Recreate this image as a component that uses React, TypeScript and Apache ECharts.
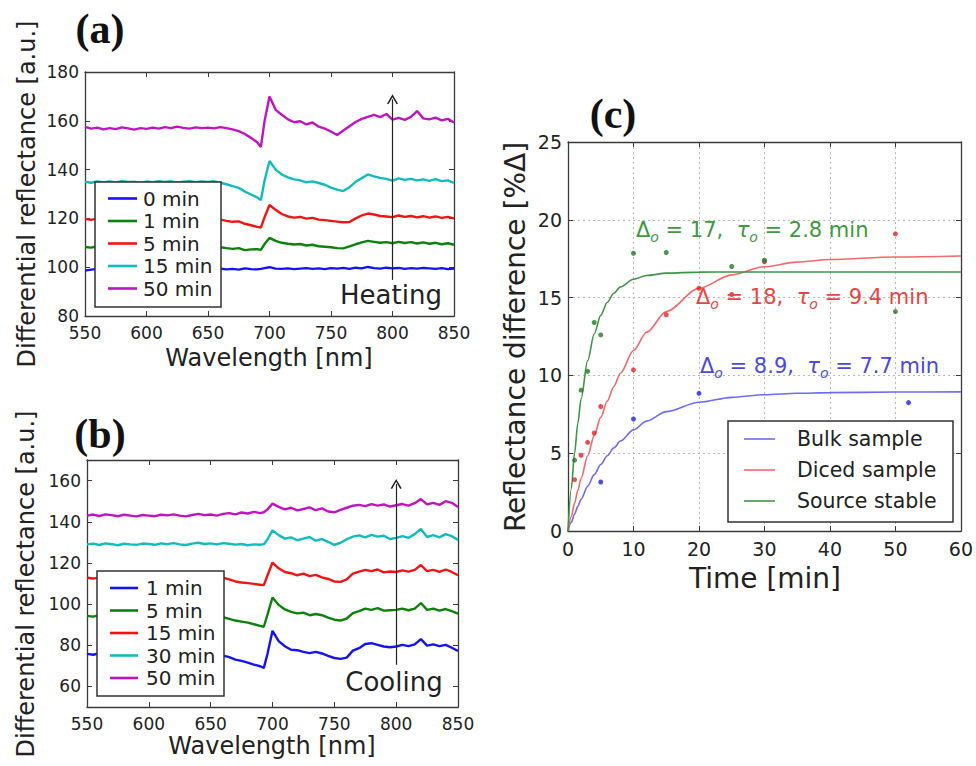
import React, { useEffect, useRef } from "react";
import * as echarts from "echarts";

// ---------- Panel (a) & (b) data: wavelength [nm] ----------
const WAVELENGTHS = [
  550, 555, 560, 565, 570, 575, 580, 585, 590, 595,
  600, 605, 610, 615, 620, 625, 630, 635, 640, 645,
  650, 655, 660, 665, 670, 675, 680, 685, 690, 693,
  696, 700, 705, 710, 715, 720, 725, 730, 735, 740,
  745, 750, 755, 760, 765, 770, 775, 780, 785, 790,
  795, 800, 805, 810, 815, 820, 825, 830, 835, 840,
  845, 850,
];

// Heating (a)
const HEAT_0 = [
  98.6, 99.0, 99.3, 98.9, 99.2, 99.0, 99.4, 99.1, 98.9, 99.3,
  99.2, 99.0, 99.4, 99.1, 99.3, 99.0, 99.2, 99.4, 99.1, 99.3,
  99.0, 99.2, 99.4, 99.1, 99.3, 99.0, 99.5, 99.2, 99.1, 99.3,
  99.6, 100.0, 99.4, 99.3, 99.5, 99.2, 99.4, 99.6, 99.3, 99.5,
  99.2, 99.6, 99.4, 99.7, 99.3, 99.8, 99.5, 100.1, 99.6, 99.4,
  99.8, 99.5, 99.7, 99.3, 99.6, 99.4, 99.7, 99.5, 99.3, 99.6,
  99.2, 99.4,
];
const HEAT_1 = [
  108.3, 108.0, 108.6, 108.2, 108.5, 108.1, 108.7, 108.3, 108.4, 108.0,
  108.5, 108.2, 108.7, 108.3, 108.6, 108.1, 108.5, 108.8, 108.3, 108.6,
  108.4, 108.7, 108.2, 107.8, 107.5, 107.8, 107.0, 107.3, 107.4, 107.1,
  109.5, 112.0, 110.8, 110.0, 109.6, 109.3, 109.5, 108.9, 109.2, 108.6,
  108.4, 108.2, 107.8, 107.7, 108.5, 109.4, 110.2, 110.8, 110.4, 110.0,
  110.3, 109.8, 110.4, 109.9, 110.3, 109.7, 110.2, 109.6, 110.0, 109.4,
  109.8, 109.2,
];
const HEAT_5 = [
  119.8, 119.4, 120.0, 119.6, 119.9, 119.5, 120.1, 119.7, 119.8, 119.5,
  119.9, 119.6, 120.0, 119.7, 120.1, 119.6, 119.9, 120.2, 119.7, 120.0,
  119.8, 120.1, 119.5, 119.0, 118.6, 118.8, 117.8, 117.2, 116.5, 116.2,
  120.5, 125.5, 123.5, 121.8, 120.8, 120.3, 120.6, 119.9, 120.2, 119.5,
  119.3, 119.0, 118.7, 118.4, 118.5, 120.0, 121.2, 122.0, 121.6, 121.0,
  120.8, 120.5, 121.2, 120.6, 121.0, 120.4, 120.9, 120.3, 120.8, 120.2,
  120.6, 120.0,
];
const HEAT_15 = [
  135.0, 134.6, 135.2, 134.8, 135.1, 134.7, 135.3, 134.9, 135.0, 134.6,
  135.1, 134.8, 135.3, 134.9, 135.2, 134.7, 135.0, 135.3, 134.8, 135.1,
  134.9, 135.2, 134.6, 134.0, 133.2, 132.5, 131.0, 129.8, 128.6, 127.5,
  135.5, 143.5, 140.0, 138.0, 136.8, 136.0, 135.6, 134.8, 135.2, 134.5,
  133.8, 132.6, 131.8, 131.2, 132.8, 135.0, 136.5, 138.0, 137.2, 136.6,
  136.2, 135.5, 136.4, 135.8, 136.2, 135.6, 136.0, 135.4, 136.1, 135.3,
  135.6, 134.5,
];
const HEAT_50 = [
  157.5, 156.8, 157.2, 156.5, 157.0, 156.6, 157.3, 156.9, 156.4, 157.0,
  156.7, 157.2, 156.8, 157.4, 157.0, 157.6, 157.1, 156.8, 157.3, 157.0,
  157.2, 156.9, 157.4, 157.0, 156.5, 155.8, 154.6, 153.0, 151.2, 149.3,
  160.0, 170.0, 164.5, 162.5, 160.6, 159.4, 159.8, 158.5, 159.3, 157.6,
  156.8, 155.6, 154.2, 156.0, 157.8, 159.5, 160.8, 161.6, 162.4, 161.5,
  162.8, 160.5, 161.2, 160.4, 161.6, 164.0, 161.0, 160.6, 161.3, 160.2,
  160.8, 159.3,
];

// Cooling (b)
const COOL_1 = [
  75.8, 75.4, 76.1, 75.6, 75.9, 75.3, 76.0, 75.7, 75.4, 76.0,
  75.7, 75.3, 76.0, 75.6, 76.1, 75.5, 75.2, 75.9, 76.3, 75.6,
  75.8, 75.4, 75.0, 74.2, 73.0, 72.4, 71.6, 70.6, 69.8, 69.0,
  76.0, 87.0, 82.0, 79.5, 77.8, 77.6, 76.8, 76.2, 76.8, 76.0,
  74.8, 73.8, 73.4, 74.0, 77.4, 78.6, 80.6, 81.0, 80.2, 79.4,
  79.0, 79.4, 80.2, 79.6, 80.4, 83.0, 79.8, 80.4, 79.6, 80.2,
  78.8, 77.2,
];
const COOL_5 = [
  94.3, 93.9, 94.6, 94.1, 94.4, 93.8, 94.5, 94.2, 93.9, 94.5,
  94.2, 93.8, 94.5, 94.1, 94.6, 94.0, 93.7, 94.4, 94.8, 94.1,
  94.3, 93.9, 93.6, 92.8, 92.0, 91.5, 91.0, 90.2, 89.4, 89.0,
  95.0, 103.2, 99.6, 97.4, 96.2, 95.5, 95.8, 94.6, 95.2, 94.6,
  93.4, 92.4, 92.0, 93.0, 95.6, 96.6, 97.8, 97.2, 98.0, 96.8,
  97.0, 97.2, 97.8, 97.0, 97.8, 100.5, 97.2, 97.8, 96.8, 97.6,
  96.6, 95.4,
];
const COOL_15 = [
  112.8, 112.4, 113.0, 112.6, 112.9, 112.3, 113.1, 112.7, 112.5, 113.0,
  112.8, 112.4, 113.1, 112.7, 113.2, 112.6, 112.3, 113.0, 113.4, 112.8,
  113.0, 112.6, 112.8, 112.0, 111.0, 110.5, 110.2, 109.8, 109.4, 109.2,
  114.0, 120.2, 117.4, 115.6, 115.0, 114.0, 114.8, 113.6, 114.2, 113.0,
  112.2, 111.0, 110.8, 112.0, 114.8, 115.8, 116.6, 116.0, 116.8, 115.4,
  115.8, 115.6, 116.4, 115.8, 116.6, 119.0, 116.0, 116.6, 115.6, 116.8,
  115.6, 114.0,
];
const COOL_30 = [
  129.0, 129.4, 128.7, 129.5, 129.1, 128.6, 129.3, 129.0, 128.8, 129.4,
  129.2, 128.8, 129.5, 129.1, 129.6, 129.0, 128.7, 129.4, 129.8, 129.2,
  129.5, 129.0, 129.6, 129.3, 128.9, 129.2, 128.6, 129.0, 128.8, 129.1,
  131.5, 135.8, 133.5, 131.8, 132.4, 131.0, 131.8, 132.6, 130.8, 131.6,
  130.2, 128.8, 129.8, 131.5, 132.8, 133.4, 132.4, 133.6, 132.8, 133.2,
  131.6, 132.2, 133.0, 132.2, 134.0, 136.5, 132.6, 133.5, 132.4, 134.0,
  133.0, 131.2,
];
const COOL_50 = [
  143.0, 143.5, 142.8, 143.6, 143.2, 142.7, 143.4, 143.0, 142.6, 143.3,
  143.0, 142.7, 143.4, 143.1, 143.6, 143.0, 142.6, 143.3, 143.8, 143.2,
  143.5, 143.0, 143.8, 144.2, 143.6, 144.5, 144.0, 144.8, 144.2, 144.6,
  146.0, 148.8, 147.2, 146.0, 146.8, 145.5, 146.2, 147.0, 145.6, 146.5,
  145.0, 144.6, 145.8, 146.8, 147.8, 148.2, 147.6, 148.6, 147.8, 148.4,
  147.4, 148.0, 148.6, 147.8, 149.0, 151.0, 148.4, 149.2, 148.2, 150.0,
  149.2, 147.2,
];

const HEAT_LABELS = ["0 min", "1 min", "5 min", "15 min", "50 min"];
const COOL_LABELS = ["1 min", "5 min", "15 min", "30 min", "50 min"];

// ---------- Panel (c) data ----------
const FIT_T = [0, 0.5, 1, 1.5, 2, 3, 4, 5, 6, 7, 8, 10, 12, 15, 20, 25, 30, 35, 40, 50, 60];
const BULK_FIT = [0, 0.56, 1.09, 1.58, 2.04, 2.88, 3.62, 4.27, 4.84, 5.34, 5.78, 6.5, 7.06, 7.67, 8.27, 8.59, 8.76, 8.85, 8.89, 8.93, 8.94];
const DICED_FIT = [0, 0.92, 1.79, 2.61, 3.39, 4.84, 6.13, 7.3, 8.35, 9.29, 10.14, 11.6, 12.77, 14.1, 15.6, 16.46, 16.98, 17.28, 17.45, 17.61, 17.67];
const SOURCE_FIT = [0, 2.72, 5.0, 6.91, 8.5, 10.95, 12.66, 13.86, 14.7, 15.28, 15.69, 16.18, 16.42, 16.57, 16.64, 16.65, 16.65, 16.65, 16.65, 16.65, 16.65];

const BULK_DOT_T = [5, 10, 20, 52];
const BULK_DOT_V = [3.15, 7.2, 8.85, 8.25];
const DICED_DOT_T = [1, 2, 3, 4, 5, 10, 15, 20, 25, 30, 50];
const DICED_DOT_V = [3.3, 4.87, 5.7, 6.3, 8.0, 10.35, 13.9, 15.6, 15.2, 17.3, 19.1];
const SOURCE_DOT_T = [1, 2, 3, 4, 5, 10, 15, 25, 30, 50];
const SOURCE_DOT_V = [4.55, 9.05, 10.26, 13.4, 12.6, 17.85, 17.9, 17.0, 17.4, 14.1];

const C_LABELS = ["Bulk sample", "Diced sample", "Source stable"];

// ---------- styling ----------
const FONT = "DejaVu Sans";
const SPEC_COLORS = ["#1414f0", "#0c820c", "#f01414", "#12bcbc", "#c014c0"];
const C_LINE = ["#6c6cf4", "#f06a6a", "#3f9646"];
const C_DOT = ["#2222d8", "#e02424", "#1f7a22"];
const C_TEXT = ["#4a4ae0", "#e84444", "#3d9a3d"];
const AXIS_COL = "#3a3a3a";
const LABEL_COL = "#222";
const ARROW = "path://M0,10 L5,0 L10,10 L8.7,10.7 L5,3.2 L1.3,10.7 Z";

const GRID_A = { left: 85, top: 72, width: 369, height: 244 };
const GRID_B = { left: 87, top: 460, width: 371, height: 247 };
const GRID_C = { left: 568, top: 142, width: 394, height: 389 };

function pairs(xs: number[], ys: number[]) {
  return xs.map((x, i) => [x, ys[i]]);
}

function frameAxes(
  grid: number,
  kind: "x" | "y",
  min: number,
  max: number,
  interval: number | null,
  custom: number[] | null,
  fontSize: number,
  splitDotted: boolean,
  labelExtra: any = {}
) {
  const common: any = {
    type: "value",
    gridIndex: grid,
    min,
    max,
    axisLine: { show: true, onZero: false, lineStyle: { color: AXIS_COL, width: 1.3 } },
    axisTick: { show: true, inside: true, length: 5, lineStyle: { color: AXIS_COL, width: 1 } },
    splitLine: { show: false },
  };
  if (interval !== null) common.interval = interval;
  if (custom) common.axisTick.customValues = custom;
  const main: any = {
    ...common,
    position: kind === "x" ? "bottom" : "left",
    axisLabel: {
      show: true,
      fontFamily: FONT,
      fontSize,
      color: LABEL_COL,
      margin: kind === "x" ? 8 : 6,
      ...(custom ? { customValues: custom } : {}),
      ...labelExtra,
    },
    splitLine: splitDotted
      ? { show: true, lineStyle: { color: "#b8b8b8", type: [2, 3], width: 1 } }
      : { show: false },
  };
  const second: any = {
    ...common,
    position: kind === "x" ? "top" : "right",
    axisLabel: { show: false },
  };
  return [main, second];
}

function legendGraphics(
  box: { x: number; y: number; w: number; h: number },
  rows: number[],
  colors: string[],
  labels: string[],
  lx1: number,
  lx2: number,
  tx: number,
  fontSize: number,
  lw: number
) {
  const els: any[] = [
    {
      type: "rect",
      z: 100,
      shape: { x: box.x, y: box.y, width: box.w, height: box.h },
      style: { fill: "#fff", stroke: "#333", lineWidth: 1.5 },
    },
  ];
  rows.forEach((ry, i) => {
    els.push({
      type: "line",
      z: 101,
      shape: { x1: lx1, y1: ry, x2: lx2, y2: ry },
      style: { stroke: colors[i], lineWidth: lw },
    });
    els.push({
      type: "text",
      z: 101,
      x: tx,
      y: ry,
      style: {
        text: labels[i],
        fontFamily: FONT,
        fontSize,
        fill: LABEL_COL,
        textAlign: "left",
        textVerticalAlign: "middle",
      },
    });
  });
  return els;
}

function annotation(x: number, y: number, delta: string, tau: string, color: string) {
  const base = { fill: color, fontFamily: FONT, fontSize: 21, lineHeight: 27, verticalAlign: "middle" };
  const sub = { fill: color, fontFamily: FONT, fontSize: 14, fontStyle: "italic", lineHeight: 14, verticalAlign: "bottom" };
  return {
    type: "text",
    z: 50,
    x,
    y,
    style: {
      text: `{d|Δ}{s|o}{d| = ${delta},  }{t|τ}{s|o}{d| = ${tau} min}`,
      rich: {
        d: base,
        t: { ...base, fontStyle: "italic" },
        s: sub,
      },
      fill: color,
      textAlign: "left",
      textVerticalAlign: "middle",
    },
  };
}

function textEl(x: number, y: number, text: string, fontSize: number, rotation = 0, extra: any = {}) {
  return {
    type: "text",
    z: 60,
    x,
    y,
    rotation,
    style: {
      text,
      fontFamily: FONT,
      fontSize,
      fill: LABEL_COL,
      textAlign: "center",
      textVerticalAlign: "middle",
      ...extra,
    },
  };
}

export default function App() {
  const ref = useRef<HTMLDivElement>(null);

  useEffect(() => {
    if (!ref.current) return;
    const chart = echarts.init(ref.current, undefined, { renderer: "svg" });

    const [xa, xa2] = frameAxes(0, "x", 550, 850, 50, null, 17, false);
    const [xb, xb2] = frameAxes(1, "x", 550, 850, 50, null, 17, false);
    const [xc, xc2] = frameAxes(2, "x", 0, 60, 10, null, 19, true);
    const [ya, ya2] = frameAxes(0, "y", 80, 180, 20, null, 17, false, { padding: [0, 0, 4, 0] });
    const [yb, yb2] = frameAxes(1, "y", 50, 170, null, [60, 80, 100, 120, 140, 160], 17, false);
    const [yc, yc2] = frameAxes(2, "y", 0, 25, 5, null, 19, true);

    const heat = [HEAT_0, HEAT_1, HEAT_5, HEAT_15, HEAT_50];
    const cool = [COOL_1, COOL_5, COOL_15, COOL_30, COOL_50];

    const specSeries = (sets: number[][], axisIdx: number, names: string[], prefix: string, arrow: number[]) =>
      sets.map((vals, i) => ({
        type: "line",
        name: prefix + names[i],
        xAxisIndex: axisIdx,
        yAxisIndex: axisIdx,
        data: pairs(WAVELENGTHS, vals),
        showSymbol: false,
        lineStyle: { color: SPEC_COLORS[i], width: 2.4 },
        itemStyle: { color: SPEC_COLORS[i] },
        z: 3,
        ...(i === sets.length - 1
          ? {
              markLine: {
                silent: true,
                symbol: ["none", ARROW],
                symbolSize: [11, 10],
                label: { show: false },
                lineStyle: { color: "#222", width: 1.2, type: "solid" },
                data: [[{ coord: [800, arrow[0]] }, { coord: [800, arrow[1]] }]],
              },
            }
          : {}),
      }));

    const cFits = [BULK_FIT, DICED_FIT, SOURCE_FIT];
    const cDotT = [BULK_DOT_T, DICED_DOT_T, SOURCE_DOT_T];
    const cDotV = [BULK_DOT_V, DICED_DOT_V, SOURCE_DOT_V];

    const cSeries: any[] = [];
    cFits.forEach((fit, i) => {
      cSeries.push({
        type: "line",
        name: C_LABELS[i],
        xAxisIndex: 4,
        yAxisIndex: 4,
        data: pairs(FIT_T, fit),
        showSymbol: false,
        smooth: 0.3,
        smoothMonotone: "x",
        lineStyle: { color: C_LINE[i], width: 1.6 },
        z: 3,
      });
    });
    cDotT.forEach((ts, i) => {
      cSeries.push({
        type: "scatter",
        name: C_LABELS[i] + " data",
        xAxisIndex: 4,
        yAxisIndex: 4,
        data: pairs(ts, cDotV[i]),
        symbolSize: 5,
        itemStyle: { color: C_DOT[i] },
        z: 4,
      });
    });

    const serif = { fontFamily: "Liberation Serif", fontWeight: "bold", fill: "#111" };
    const graphics: any[] = [
      // panel letters
      textEl(100, 29, "(a)", 42, 0, serif),
      textEl(100, 434, "(b)", 42, 0, serif),
      textEl(613, 114, "(c)", 42, 0, serif),
      // axis titles
      textEl(27, 194, "Differential reflectance [a.u.]", 24, Math.PI / 2),
      textEl(269, 358, "Wavelength [nm]", 24),
      textEl(26, 584, "Differential reflectance [a.u.]", 24, Math.PI / 2),
      textEl(272, 746, "Wavelength [nm]", 24),
      textEl(515, 337, "Reflectance difference [%Δ]", 28, Math.PI / 2),
      textEl(765, 578, "Time [min]", 28),
      // in-plot words
      textEl(391, 295, "Heating", 26),
      textEl(394, 682, "Cooling", 26),
      // annotations in (c)
      annotation(636, 230, "17", "2.8", C_TEXT[2]),
      annotation(696, 297, "18", "9.4", C_TEXT[1]),
      annotation(700, 366, "8.9", "7.7", C_TEXT[0]),
      // legends
      ...legendGraphics({ x: 95, y: 182, w: 126, h: 125 }, [198.5, 221, 243.5, 266, 288.5], SPEC_COLORS, HEAT_LABELS, 108, 137, 143, 20, 2.6),
      ...legendGraphics({ x: 97, y: 571, w: 127, h: 125 }, [588, 610.5, 633, 655.5, 678], SPEC_COLORS, COOL_LABELS, 110, 138, 146, 20, 2.6),
      ...legendGraphics({ x: 728, y: 421, w: 225, h: 101 }, [439, 470, 501], C_LINE, C_LABELS, 744, 775, 797, 20.5, 1.6),
    ];

    chart.setOption({
      animation: false,
      backgroundColor: "#fff",
      grid: [
        { ...GRID_A, containLabel: false },
        { ...GRID_B, containLabel: false },
        { ...GRID_C, containLabel: false },
      ],
      xAxis: [xa, xa2, xb, xb2, xc, xc2],
      yAxis: [ya, ya2, yb, yb2, yc, yc2],
      series: [
        ...specSeries(heat, 0, HEAT_LABELS, "Heating ", [94.8, 168.8]),
        ...specSeries(cool, 2, COOL_LABELS, "Cooling ", [70.5, 158.4]),
        ...cSeries,
      ],
      graphic: graphics,
    });

    return () => chart.dispose();
  }, []);

  return (
    <div
      ref={ref}
      style={{ position: "absolute", left: 0, top: 0, width: 976, height: 766, background: "#fff" }}
    />
  );
}
